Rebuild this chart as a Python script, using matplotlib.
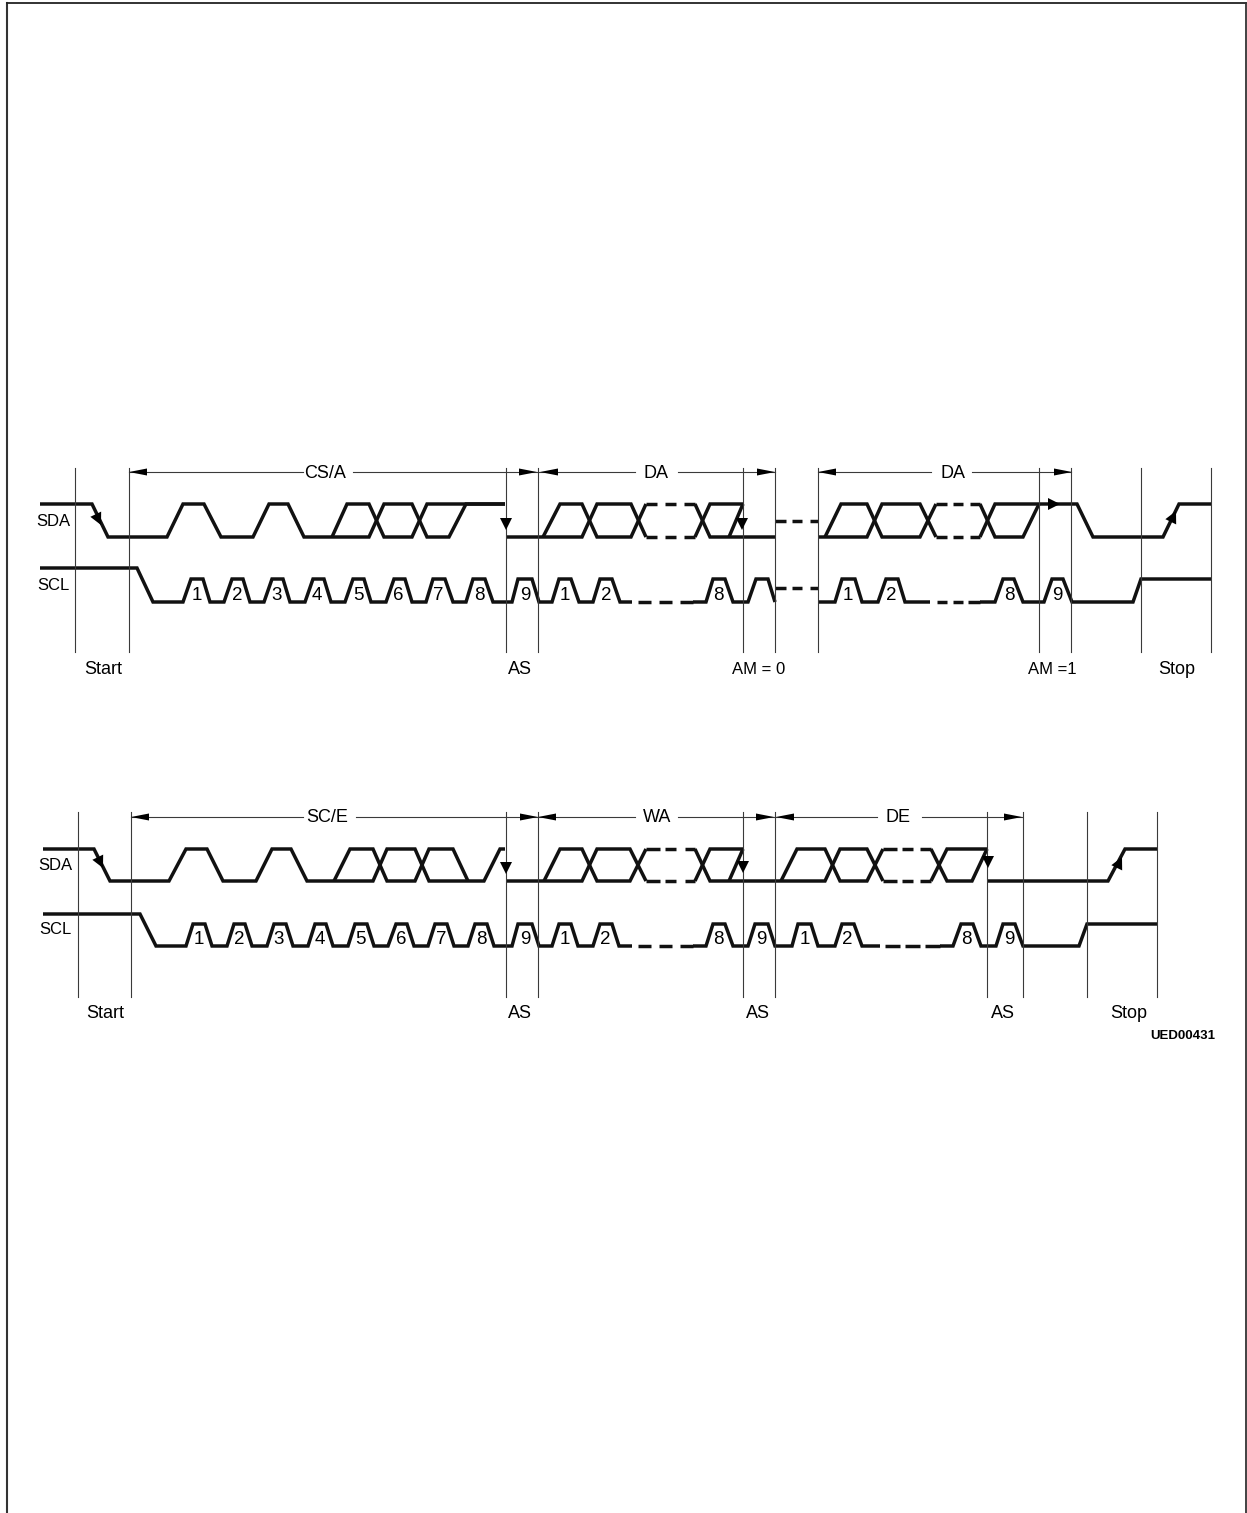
import matplotlib
matplotlib.use("Agg")
from matplotlib import pyplot as plt

plt.rcParams['font.family'] = ['Liberation Sans', 'DejaVu Sans']

# everything in pixels, T = idle high, H = high, L = low
# upper diagram: read / AM
top_sda_levels = {'H': 504, 'L': 537}
top_scl_levels = {'T': 568, 'H': 579, 'L': 602}
top_sda_x = [
    [40, 92, 108, 167, 183, 204, 221, 253, 269, 288, 304, 369, 384, 412, 427, 449, 466, 505],
    [332, 347, 369, 384, 412, 427, 505],
    [506, 582, 597, 631, 646],
    [543, 560, 582, 597, 631, 646],
    [695, 710, 743],
    [695, 710, 775],
    [729, 743],
    [818, 867, 882, 920, 936],
    [825, 841, 867, 882, 920, 936],
    [980, 995, 1077, 1093, 1163, 1179, 1212],
    [980, 995, 1023, 1039],
]
top_sda_lv = ['HHLL' * 4 + 'HH', 'LHHLLHH', 'LLHHL', 'LHHLLH', 'LHH', 'HLL', 'LH',
              'LLHHL', 'LHHLLH', 'LHHLLHH', 'HLLH']
top_scl_x = [
    [40, 137, 153, 183, 191, 203, 210, 224, 232, 243, 250, 264, 272, 283, 290, 305, 313, 324, 331, 345,
     353, 364, 371, 386, 394, 405, 412, 426, 433, 445, 453, 466, 473, 485, 493, 512, 518, 532, 539, 552,
     559, 571, 579, 593, 600, 612, 620, 632],
    [693, 706, 713, 725, 733, 748, 756, 768, 775],
    [818, 835, 842, 855, 862, 878, 886, 898, 905, 930],
    [980, 995, 1003, 1014, 1023, 1044, 1052, 1063, 1072, 1133, 1141, 1212],
]
top_scl_lv = ['TTLL' + 'HHLL' * 11, 'LLHHLLHHL', 'LLHHLLHHLL', 'LLHHLLHHLLHH']
top_sda_dash = [(646, 657), (665, 676), (684, 695), (936, 947), (953, 963), (970, 980)]
top_scl_dash = [(638, 651), (659, 672), (680, 693), (937, 947), (953, 963), (968, 980)]
top_gap_dash = [(775, 786), (792, 802), (810, 818)]
top_gap_y = [521, 588]
top_vlines = [75, 129, 506, 538, 743, 775, 818, 1039, 1071, 1141, 1211]
top_vspan = (468, 652)

# lower diagram: write
bot_sda_levels = {'H': 849, 'L': 881}
bot_scl_levels = {'T': 914, 'H': 924, 'L': 946}
bot_sda_x = [
    [43, 94, 110, 169, 186, 207, 223, 256, 272, 291, 307, 373, 387, 415, 429, 484, 500, 505],
    [334, 350, 373, 387, 415, 429, 453, 468],
    [506, 582, 597, 630, 646],
    [544, 560, 582, 597, 630, 646],
    [695, 710, 743],
    [695, 710, 825, 840, 867, 883],
    [729, 743],
    [781, 797, 825, 840, 867, 883],
    [931, 947, 987],
    [931, 947, 972, 987],
    [988, 1108, 1125, 1157],
]
bot_sda_lv = ['HHLL' * 4 + 'HH', 'LHHLLHHL', 'LLHHL', 'LHHLLH', 'LHH', 'HLLHHL', 'LH',
              'LHHLLH', 'LHH', 'HLLH', 'LLHH']
bot_scl_x = [
    [43, 140, 156, 186, 193, 205, 212, 227, 234, 245, 252, 267, 274, 286, 293, 308, 315, 326, 333, 348,
     355, 367, 374, 388, 396, 407, 414, 428, 435, 447, 454, 468, 475, 487, 494, 512, 518, 532, 539, 552,
     559, 571, 578, 593, 600, 612, 619, 632],
    [693, 706, 713, 725, 733, 748, 755, 768, 775, 792, 798, 811, 818, 835, 842, 854, 862, 880],
    [940, 953, 961, 973, 981, 996, 1003, 1015, 1023, 1079, 1087, 1157],
]
bot_scl_lv = ['TTLL' + 'HHLL' * 11, 'LL' + 'HHLL' * 4, 'LLHHLLHHLLHH']
bot_sda_dash = [(646, 660), (665, 676), (685, 695), (883, 897), (902, 913), (920, 931)]
bot_scl_dash = [(638, 651), (659, 672), (680, 693), (885, 900), (905, 920), (925, 940)]
bot_vlines = [78, 131, 506, 538, 743, 775, 987, 1023, 1087, 1157]
bot_vspan = (812, 997)

# dimension lines: solid pieces, then arrow tip x and which way it points
top_dim_y = 472
top_dim_lines = [(129, 303), (353, 538), (538, 635), (678, 775), (818, 931), (972, 1071)]
top_dim_tips = [(129, -1), (537, 1), (540, -1), (775, 1), (818, -1), (1072, 1)]
bot_dim_y = 817
bot_dim_lines = [(131, 303), (356, 538), (538, 635), (678, 775), (775, 877), (922, 1022)]
bot_dim_tips = [(131, -1), (538, 1), (538, -1), (774, 1), (776, -1), (1022, 1)]

# arrows on the SDA edges: tip x, tip y, direction
edge_arrows = [
    (101, 525, 16, 33), (506, 530, 0, 1), (742, 530, 0, 1), (1060, 504, 1, 0), (1176, 511, 16, -33),
    (103, 868, 16, 33), (506, 874, 0, 1), (743, 873, 0, 1), (988, 868, 0, 1), (1122, 857, 16, -33),
]

# labels
top_bits = ['1', '2', '3', '4', '5', '6', '7', '8', '9', '1', '2', '8', '1', '2', '8', '9']
top_bits_x = [197, 237, 277, 317, 358, 398, 438, 479, 525, 565, 606, 718, 848, 891, 1009, 1057]
bot_bits = ['1', '2', '3', '4', '5', '6', '7', '8', '9', '1', '2', '8', '9', '1', '2', '8', '9']
bot_bits_x = [199, 239, 279, 320, 360, 401, 441, 481, 525, 565, 605, 718, 761, 805, 847, 966, 1009]
bit_y = [596, 940]
labels = ['SDA', 'SCL', 'CS/A', 'DA', 'DA', 'Start', 'AS', 'AM = 0', 'AM =1', 'Stop',
          'SDA', 'SCL', 'SC/E', 'WA', 'DE', 'Start', 'AS', 'AS', 'AS', 'Stop']
labels_x = [53, 53, 325, 656, 953, 103, 520, 759, 1052, 1177,
            55, 55, 327, 657, 898, 105, 520, 758, 1003, 1129]
labels_y = [521, 586, 473, 473, 473, 670, 670, 670, 670, 670,
            865, 930, 818, 818, 818, 1014, 1014, 1014, 1014, 1014]
small_labels = ['SDA', 'SCL', 'AM = 0', 'AM =1']

THICK = 2.5
THIN = 0.8
INK = '#111111'
LINE = '#3a3a3a'


def trace(ax, xs, lv, levels):
    ys = [levels[c] for c in lv]
    ax.plot(xs, ys, color=INK, lw=THICK, solid_joinstyle='miter', solid_capstyle='butt')


def head(ax, tx, ty, dx, dy, length, half):
    n = (dx * dx + dy * dy) ** 0.5
    dx, dy = dx / n, dy / n
    bx, by = tx - dx * length, ty - dy * length
    ax.fill([tx, bx - dy * half, bx + dy * half], [ty, by + dx * half, by - dx * half],
            color='black', lw=0, zorder=4)


def dashes(ax, pieces, y):
    for x0, x1 in pieces:
        ax.plot([x0, x1], [y, y], color=INK, lw=THICK, solid_capstyle='butt')


fig = plt.figure(figsize=(12.47, 15.13), dpi=100)
ax = fig.add_axes([0, 0, 1, 1])
ax.set_xlim(0, 1247)
ax.set_ylim(1513, 0)
ax.axis('off')

# page frame
ax.plot([7, 7], [1513, 3], color='#333333', lw=1.5)
ax.plot([7, 1246], [3, 3], color='#222222', lw=1.3)
ax.plot([1246, 1246], [3, 1513], color='#333333', lw=1.3)

for xs, lv in zip(top_sda_x, top_sda_lv, strict=True):
    trace(ax, xs, lv, top_sda_levels)
for xs, lv in zip(top_scl_x, top_scl_lv, strict=True):
    trace(ax, xs, lv, top_scl_levels)
for xs, lv in zip(bot_sda_x, bot_sda_lv, strict=True):
    trace(ax, xs, lv, bot_sda_levels)
for xs, lv in zip(bot_scl_x, bot_scl_lv, strict=True):
    trace(ax, xs, lv, bot_scl_levels)

for y in top_sda_levels.values():
    dashes(ax, top_sda_dash, y)
for y in bot_sda_levels.values():
    dashes(ax, bot_sda_dash, y)
dashes(ax, top_scl_dash, top_scl_levels['L'])
dashes(ax, bot_scl_dash, bot_scl_levels['L'])
for y in top_gap_y:
    dashes(ax, top_gap_dash, y)

for x in top_vlines:
    ax.plot([x, x], top_vspan, color=LINE, lw=THIN)
for x in bot_vlines:
    ax.plot([x, x], bot_vspan, color=LINE, lw=THIN)

for x0, x1 in top_dim_lines:
    ax.plot([x0, x1], [top_dim_y, top_dim_y], color=LINE, lw=THIN)
for x0, x1 in bot_dim_lines:
    ax.plot([x0, x1], [bot_dim_y, bot_dim_y], color=LINE, lw=THIN)
for x, d in top_dim_tips:
    head(ax, x, top_dim_y, d, 0, 18, 3.5)
for x, d in bot_dim_tips:
    head(ax, x, bot_dim_y, d, 0, 18, 3.5)

for tx, ty, dx, dy in edge_arrows:
    head(ax, tx, ty, dx, dy, 12, 6)

for s, x in zip(top_bits, top_bits_x, strict=True):
    ax.text(x, bit_y[0], s, ha='center', va='center', fontsize=13.5, color='black')
for s, x in zip(bot_bits, bot_bits_x, strict=True):
    ax.text(x, bit_y[1], s, ha='center', va='center', fontsize=13.5, color='black')
for s, x, y in zip(labels, labels_x, labels_y, strict=True):
    size = 12 if s in small_labels else 13
    ax.text(x, y, s, ha='center', va='center', fontsize=size, color='black')
ax.text(1183, 1036, 'UED00431', ha='center', va='center', fontsize=9.5, color='black', fontweight='bold')

fig.savefig('out.png', dpi=100)
